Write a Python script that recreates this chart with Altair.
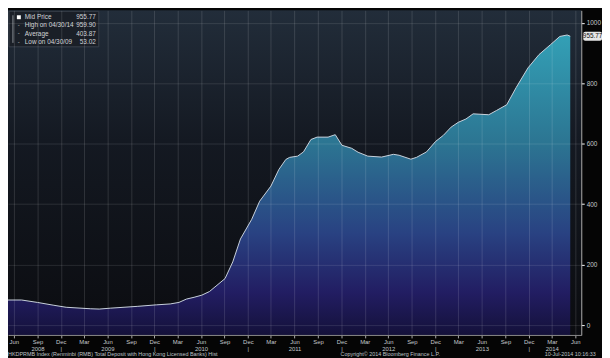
import altair as alt
import pandas as pd

# ---- data ----
dates = [
    "2008-05-09", "2008-07-01", "2008-09-01", "2008-11-01", "2008-12-22",
    "2009-03-28", "2009-04-30", "2009-06-12", "2009-09-25", "2009-12-09",
    "2010-02-01", "2010-03-07", "2010-04-05", "2010-05-05", "2010-06-04",
    "2010-07-04", "2010-09-03", "2010-10-03", "2010-11-02", "2010-12-16",
    "2011-01-16", "2011-03-01", "2011-04-01", "2011-04-28", "2011-05-13",
    "2011-06-13", "2011-07-06", "2011-08-04", "2011-08-28", "2011-10-10",
    "2011-11-07", "2011-12-03", "2012-01-10", "2012-02-04", "2012-03-13",
    "2012-05-06", "2012-06-21", "2012-07-13", "2012-08-28", "2012-09-19",
    "2012-10-28", "2012-12-03", "2013-01-02", "2013-02-01", "2013-03-01",
    "2013-03-31", "2013-04-28", "2013-06-28", "2013-07-28", "2013-09-06",
    "2013-10-13", "2013-11-28", "2014-01-10", "2014-02-24", "2014-04-01",
    "2014-04-30", "2014-05-12",
]
values = [
    83, 83, 75, 66, 59,
    54, 53.02, 56, 62, 67,
    70, 75, 86, 92, 99,
    111, 154, 209, 285, 350,
    410, 460, 515, 548, 555,
    559, 573, 614, 622, 622,
    630, 595, 585, 572, 559,
    556, 565, 562, 549, 555,
    573, 608, 628, 655, 671,
    682, 699, 696, 710, 729,
    786, 851, 895, 928, 955,
    959.90, 955.77,
]

legend_labels = ["Mid Price", "High on 04/30/14", "Average", "Low on 04/30/09"]
legend_values = ["955.77", "959.90", "403.87", "53.02"]
last_label = ["955.77"]

y_ticks = [0, 200, 400, 600, 800, 1000]
y_domain = [-32.6, 1041.5]
x_start = (2008, 5, 9)
x_end = (2014, 6, 24)
year_label_months = ["2008-09", "2009-06", "2010-06", "2011-06", "2012-06", "2013-06", "2014-03"]

footer_left = "HKDPRMB Index (Renminbi (RMB) Total Deposit with Hong Kong Licensed Banks)  Hist"
footer_mid = "Copyright\u00a9 2014 Bloomberg Finance L.P."
footer_right = "10-Jul-2014 10:16:33"

W, H = 581, 329
FONT = "Liberation Sans"
LABEL = "#c4c8cc"

df = pd.DataFrame({"date": pd.to_datetime(dates), "value": values})
last_df = df.tail(1).copy()
last_df["label"] = last_label

# quarterly tick values Jun 2008 .. Jun 2014
qvals = []
for yr in range(2008, 2015):
    for mo in (3, 6, 9, 12):
        if (yr, mo) >= (2008, 6) and (yr, mo) <= (2014, 6):
            qvals.append(alt.DateTime(year=yr, month=mo, date=1))

keys = ",".join("'%s'" % k for k in year_label_months)
label_expr = (
    "indexof([" + keys + "], timeFormat(datum.value, '%Y-%m')) >= 0 ? "
    "[datum.label, timeFormat(datum.value, '%Y')] : "
    "(month(datum.value) == 11 ? [datum.label, '|'] : datum.label)"
)

x_enc = alt.X(
    "date:T",
    scale=alt.Scale(
        domain=[alt.DateTime(year=x_start[0], month=x_start[1], date=x_start[2]),
                alt.DateTime(year=x_end[0], month=x_end[1], date=x_end[2])]
    ),
    axis=alt.Axis(
        values=qvals, format="%b", labelExpr=label_expr, title=None,
        grid=True, gridColor="#ffffff", gridOpacity=0.13, gridWidth=1,
        domainColor="#8a8a8a", tickColor="#aaaaaa", tickSize=3,
        labelColor=LABEL, labelFontSize=6, labelFont=FONT, labelPadding=1,
        labelLineHeight=6.8, labelFlush=False, labelOverlap=False, zindex=1,
    ),
)
y_enc = alt.Y(
    "value:Q",
    scale=alt.Scale(domain=y_domain, nice=False, zero=False),
    axis=alt.Axis(
        orient="right", values=y_ticks, title=None, format="d",
        grid=True, gridColor="#ffffff", gridOpacity=0.11, gridWidth=1,
        domainColor="#b0b0b0", tickColor="#ffffff", tickSize=3,
        labelColor=LABEL, labelFontSize=6.5, labelFont=FONT, labelPadding=2,
        zindex=1,
    ),
)

one = alt.Data(values=[{}])

bg = alt.Chart(one).mark_rect(
    fill=alt.Gradient(
        gradient="linear", x1=0, x2=0, y1=0, y2=1,
        stops=[alt.GradientStop(color="#222d3a", offset=0),
               alt.GradientStop(color="#141922", offset=0.4),
               alt.GradientStop(color="#0b0c10", offset=1)],
    )
).encode(x=alt.value(0), x2=alt.value(W), y=alt.value(0), y2=alt.value(H))

area = alt.Chart(df).mark_area(
    clip=True,
    color=alt.Gradient(
        gradient="linear", x1=0, x2=0, y1=0, y2=1,
        stops=[alt.GradientStop(color="#33a0b6", offset=0),
               alt.GradientStop(color="#2c7592", offset=0.36),
               alt.GradientStop(color="#294282", offset=0.66),
               alt.GradientStop(color="#221d62", offset=0.86),
               alt.GradientStop(color="#14113a", offset=1)],
    ),
).encode(x=x_enc, y=y_enc, y2=alt.datum(y_domain[0]))

line = alt.Chart(df).mark_line(clip=True, color="#c9d2dc", strokeWidth=1).encode(
    x=x_enc, y=y_enc
)

# legend box (top-left)
leg_box = alt.Chart(one).mark_rect(
    fill="#1a1f27", stroke="#3a404a", strokeWidth=1
).encode(x=alt.value(1), x2=alt.value(92), y=alt.value(1), y2=alt.value(37))
leg_bracket = alt.Chart(one).mark_rule(color="#8a8f96", strokeWidth=1).encode(
    x=alt.value(5), y=alt.value(5), y2=alt.value(33)
)
leg_square = alt.Chart(one).mark_square(color="#ffffff", size=16, opacity=1).encode(
    x=alt.value(11), y=alt.value(7)
)
leg_marks = alt.Chart(one).mark_text(
    font=FONT, fontSize=6, color="#c8c8c8", align="center", baseline="middle", lineHeight=8.4
).encode(x=alt.value(11), y=alt.value(15), text=alt.value(["-", "-", "-"]))
leg_text = alt.Chart(one).mark_text(
    font=FONT, fontSize=6.5, color="#d2d4d8", align="left", baseline="middle", lineHeight=8.4
).encode(x=alt.value(17), y=alt.value(7), text=alt.value(legend_labels))
leg_vals = alt.Chart(one).mark_text(
    font=FONT, fontSize=6.5, color="#d2d4d8", align="right", baseline="middle", lineHeight=8.4
).encode(x=alt.value(89), y=alt.value(7), text=alt.value(legend_values))

# last value tag on the right axis
tag_box = alt.Chart(last_df).mark_rect(
    fill="#e6e6e6", cornerRadius=2, yOffset=-4.5, y2Offset=4.5, clip=False
).encode(x=alt.value(W + 2), x2=alt.value(W + 21), y=alt.Y("value:Q"), y2=alt.Y2("value:Q"))
tag_text = alt.Chart(last_df).mark_text(
    font=FONT, fontSize=6.5, color="#111111", align="center", baseline="middle"
).encode(x=alt.value(W + 11.5), y=alt.Y("value:Q"), text="label:N")

FOOT_Y = 348
footer = alt.Chart(one).mark_text(
    font=FONT, fontSize=5.5, color="#bfc3c8", align="left", baseline="middle"
).encode(x=alt.value(0), y=alt.value(FOOT_Y), text=alt.value(footer_left))
footer2 = alt.Chart(one).mark_text(
    font=FONT, fontSize=5.5, color="#bfc3c8", align="left", baseline="middle"
).encode(x=alt.value(337), y=alt.value(FOOT_Y), text=alt.value(footer_mid))
footer3 = alt.Chart(one).mark_text(
    font=FONT, fontSize=5.5, color="#bfc3c8", align="left", baseline="middle"
).encode(x=alt.value(544), y=alt.value(FOOT_Y), text=alt.value(footer_right))

chart = alt.layer(
    bg, area, line, leg_box, leg_bracket, leg_square, leg_marks, leg_text, leg_vals,
    tag_box, tag_text, footer, footer2, footer3,
).properties(
    width=W, height=H,
    padding={"left": 0, "top": 0, "right": 21, "bottom": 21},
    autosize=alt.AutoSizeParams(type="none"),
    background="#050505",
).configure_view(stroke=None)

chart.save("out.html", embed_options={"renderer": "svg", "actions": False})
